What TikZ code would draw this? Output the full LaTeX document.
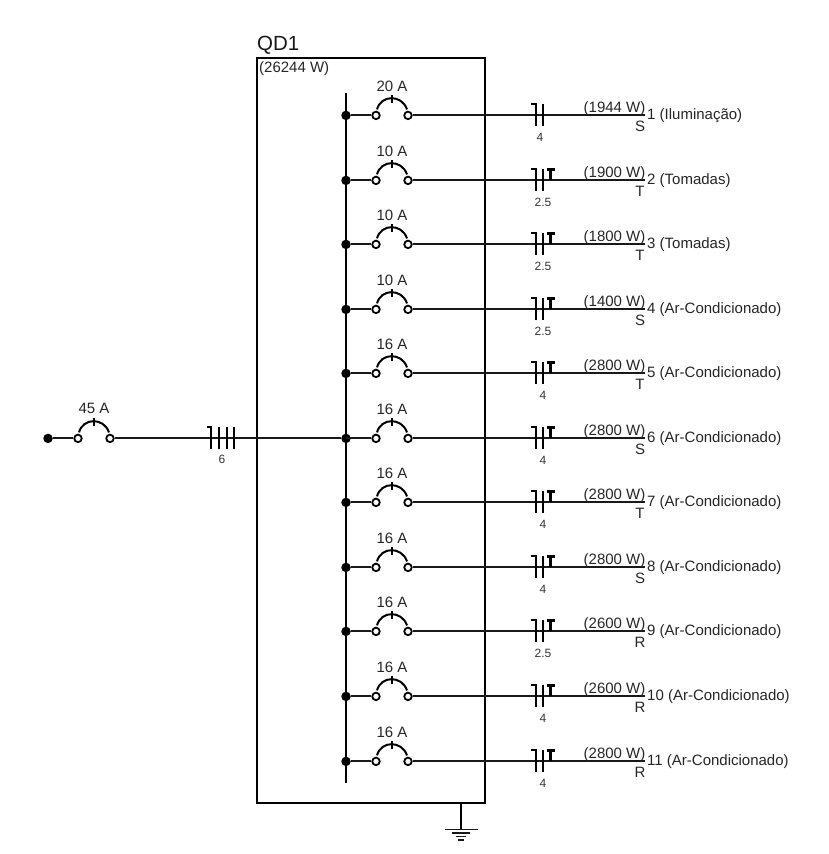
\documentclass[tikz,border=0pt]{standalone}
\usepackage{fontspec}
\setmainfont{Liberation Sans}
\newcommand{\fsz}[1]{\fontsize{#1}{#1}\selectfont}
\tikzset{
  wire/.style={draw=black!90,line width=1.9pt},
  heavy/.style={draw=black,line width=2.2pt},
  cablemark/.style={draw=black,line width=2pt},
  term/.style={circle,draw=black,fill=white,line width=1.8pt,inner sep=0pt,minimum size=7.5pt},
  jdot/.style={circle,fill=black,inner sep=0pt,minimum size=9.5pt},
  lab/.style={inner sep=0pt,text=black!85,font=\fsz{15}},
  smalllab/.style={inner sep=0pt,text=black!80,font=\fsz{12}},
}
\newcommand{\breaker}[4]{% name, x-left, y, label
  \node[term] (#1-a) at (#2,#3) {};
  \node[term] (#1-b) at (#2+32,#3) {};
  \draw[wire,draw=black,line width=2pt] (#2+1,#3-6) .. controls (#2+5,#3-21) and (#2+26,#3-21) .. (#2+31,#3-6);
  \draw[wire,draw=black,line width=1.6pt] (#2+16,#3-20) -- (#2+16,#3-12);
  \node[lab] at (#2+16,#3-29.5) {#4};
}
\begin{document}
\begin{tikzpicture}[x=1pt,y=-1pt]
\useasboundingbox (0,0) rectangle (828,854);
% panel
\node[inner sep=0pt,anchor=south west,font=\fsz{20.5},text=black!90] (qd) at (257,54.2) {QD1};
\node[inner sep=0pt,anchor=west,font=\fsz{15},text=black!85] (pw) at (259,68.7) {(26244 W)};
\draw[heavy,line width=1.8pt] (257,58) rectangle (485,803);
\begin{scope}[shift={(0,0.4)}]
% bus
\coordinate (bustop) at (346,93);
\coordinate (busbot) at (346,783);
\draw[heavy] (bustop) -- (busbot);
% feeder
\node[jdot] (src) at (48,438) {};
\breaker{main}{78}{438}{45 A}
\node[jdot] (feedj) at (346,438) {};
\draw[wire] (src) -- (main-a);
\draw[wire] (main-b) -- (feedj);
\draw[cablemark] (207,427) -- (211,427) -- (211,449);
\foreach \tx in {219,226.5,234} \draw[cablemark] (\tx,427) -- (\tx,449);
\node[smalllab] (feedsec) at (222,459) {6};
% circuits
\foreach \n/\y/\amp/\pwr/\ph/\nm/\secn/\hasT/\secx in {
  1/115/20/1944/S/{1 (Iluminação)}/4/0/540,
  2/180/10/1900/T/{2 (Tomadas)}/2.5/1/543,
  3/244/10/1800/T/{3 (Tomadas)}/2.5/1/543,
  4/309/10/1400/S/{4 (Ar-Condicionado)}/2.5/1/543,
  5/373/16/2800/T/{5 (Ar-Condicionado)}/4/1/543,
  6/438/16/2800/S/{6 (Ar-Condicionado)}/4/1/543,
  7/502/16/2800/T/{7 (Ar-Condicionado)}/4/1/543,
  8/567/16/2800/S/{8 (Ar-Condicionado)}/4/1/543,
  9/631/16/2600/R/{9 (Ar-Condicionado)}/2.5/1/543,
  10/696/16/2600/R/{10 (Ar-Condicionado)}/4/1/543,
  11/761/16/2800/R/{11 (Ar-Condicionado)}/4/1/543}{
  \ifnum\n=6\relax\coordinate (j\n) at (feedj);\else\node[jdot] (j\n) at (346,\y) {};\fi
  \breaker{br\n}{376}{\y}{\amp\ A}
  \draw[wire] (j\n) -- (br\n-a);
  \coordinate (end\n) at (645,\y);
  \draw[wire] (br\n-b) -- (end\n);
  \draw[cablemark] (531,\y-11) -- (536,\y-11) -- (536,\y+11);
  \draw[cablemark] (543,\y-11) -- (543,\y+11);
  \ifnum\hasT=1\relax
    \draw[cablemark,line width=2.4pt] (550.5,\y-11) -- (550.5,\y);
    \draw[cablemark,line width=2.4pt] (546.5,\y-11) -- (555,\y-11);
  \fi
  \node[smalllab] (sec\n) at (\secx,\y+22) {\secn};
  \node[lab,anchor=base] (pw\n) at (614.5,\y-3.2) {(\pwr\ W)};
  \node[lab,anchor=base] (ph\n) at (640,\y+16.3) {\ph};
  \node[lab,anchor=west] (nm\n) at (647,\y) {\nm};
}
\end{scope}
% ground
\coordinate (gtop) at (461,803);
\coordinate (gnd) at (461,829);
\draw[heavy,line width=1.7pt] (gtop) -- (gnd);
\draw[wire,line width=1.6pt] (445,829.5) -- (478,829.5);
\draw[wire,line width=1.6pt] (452,833) -- (470,833);
\draw[wire,line width=1.6pt] (456,836.5) -- (466,836.5);
\draw[wire,line width=1.6pt] (458,840) -- (464,840);
\end{tikzpicture}
\end{document}
